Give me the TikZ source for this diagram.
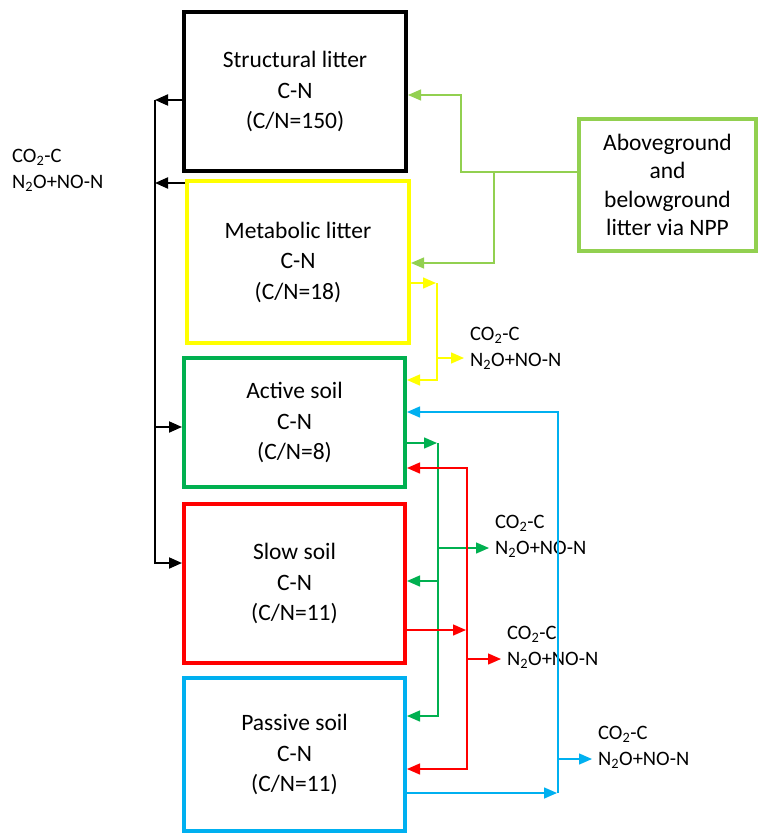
\documentclass[tikz,border=0pt]{standalone}
\usepackage{fontspec}
\setmainfont{Carlito}
\usetikzlibrary{arrows.meta,positioning}
\definecolor{poolyellow}{RGB}{255,255,0}
\definecolor{poolgreen}{RGB}{0,176,80}
\definecolor{poolred}{RGB}{255,0,0}
\definecolor{poolblue}{RGB}{0,176,240}
\definecolor{nppgreen}{RGB}{146,208,80}

\begin{document}
\begin{tikzpicture}[x=1pt,y=-1pt,
  pool/.style={draw,line width=4pt,align=center,inner sep=0pt,minimum width=221pt,font=\fontsize{23.5}{30.5}\selectfont},
  flux/.style={line width=1.4pt,-{Triangle[length=13pt,width=11pt]}},
  gas/.style={align=left,anchor=west,inner xsep=6pt,inner ysep=0pt,font=\fontsize{20.5}{26}\selectfont}]
  \useasboundingbox (0,0) rectangle (761,837);
  % pools
  \node[pool,minimum width=222pt,minimum height=159pt] (struct) at (295,91.5) {Structural litter\\C-N\\(C/N=150)};
  \node[pool,draw=poolyellow,minimum width=222pt,minimum height=162pt,below=6pt of struct,xshift=3pt] (metab) {Metabolic litter\\C-N\\(C/N=18)};
  \node[pool,draw=poolgreen,minimum height=129pt,below=11pt of metab,xshift=-3.5pt] (active) {Active soil\\C-N\\(C/N=8)};
  \node[pool,draw=poolred,minimum height=159pt,below=13pt of active] (slow) {Slow soil\\C-N\\(C/N=11)};
  \node[pool,draw=poolblue,minimum height=153pt,below=11pt of slow] (passive) {Passive soil\\C-N\\(C/N=11)};
  \node[pool,draw=nppgreen,line width=3.5pt,minimum width=177pt,minimum height=132pt,font=\fontsize{23.5}{28.5}\selectfont] (npp) at (667.5,185) {Aboveground\\and\\belowground\\litter via NPP};
  % gas losses
  \node[gas] (lab0) at (6,170) {CO\textsubscript{2}-C\\N\textsubscript{2}O+NO-N};
  \node[gas] (lab1) at (464,348.5) {CO\textsubscript{2}-C\\N\textsubscript{2}O+NO-N};
  \node[gas] (lab2) at (489,536) {CO\textsubscript{2}-C\\N\textsubscript{2}O+NO-N};
  \node[gas] (lab3) at (501,647.5) {CO\textsubscript{2}-C\\N\textsubscript{2}O+NO-N};
  \node[gas] (lab4) at (592,747) {CO\textsubscript{2}-C\\N\textsubscript{2}O+NO-N};
  % litter input
  \draw[flux,nppgreen,line width=1.2pt] (npp.west |- 0,172) -- (461,172) |- (struct.east |- 0,95);
  \draw[flux,nppgreen,line width=1.2pt] (494,172) |- (metab.east |- 0,263);
  % litter to soil, black bus
  \draw[flux,line width=2pt] (struct.west |- 0,100) -- (155,100);
  \draw[flux,line width=2pt] (metab.west |- 0,183) -- (155,183);
  \draw[flux,line width=2pt] (155,100) |- (slow.west |- 0,563);
  \draw[flux,line width=2pt] (155,427) -- (active.west |- 0,427);
  % metabolic
  \draw[flux,poolyellow] (metab.east |- 0,283) -- (436,283);
  \draw[flux,poolyellow] (437,283) |- (active.east |- 0,380);
  \draw[flux,poolyellow] (437,358) -- (lab1.west |- 0,358);
  % active
  \draw[flux,poolgreen] (active.east |- 0,443) -- (437,443);
  \draw[flux,poolgreen] (438,443) |- (passive.east |- 0,716);
  \draw[flux,poolgreen] (438,548) -- (lab2.west |- 0,548);
  \draw[flux,poolgreen] (438,581) -- (slow.east |- 0,581);
  % slow
  \draw[flux,poolred] (slow.east |- 0,630) -- (466,630);
  \draw[flux,poolred] (467,630) |- (active.east |- 0,468);
  \draw[flux,poolred] (467,630) |- (passive.east |- 0,769);
  \draw[flux,poolred] (467,659) -- (lab3.west |- 0,659);
  % passive
  \draw[flux,poolblue,line width=1.6pt] (passive.east |- 0,793) -- (557,793);
  \draw[flux,poolblue] (558,793) |- (active.east |- 0,412);
  \draw[flux,poolblue] (558,759) -- (lab4.west |- 0,759);
\end{tikzpicture}
\end{document}
